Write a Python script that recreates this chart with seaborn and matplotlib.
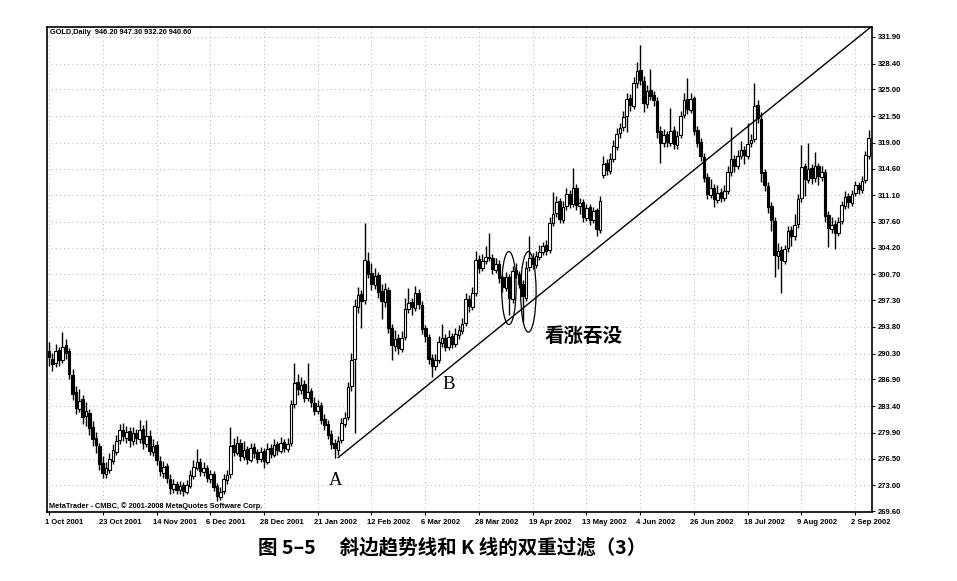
import numpy as np
import pandas as pd
import matplotlib
matplotlib.use("Agg")
import matplotlib.pyplot as plt
import seaborn as sns
from matplotlib.patches import Ellipse
from matplotlib.transforms import ScaledTranslation

# ---------------- data ----------------
opens = [290.6, 289.6, 289.0, 290.8, 289.4, 291.4, 290.6, 287.5, 285.2, 283.0,
         284.3, 282.1, 282.5, 280.6, 279.2, 278.1, 275.9, 274.5, 275.0, 276.2,
         277.4, 278.9, 280.3, 279.2, 280.1, 278.8, 279.9, 279.0, 280.4, 278.4,
         279.5, 277.3, 278.3, 276.2, 274.6, 275.5, 273.8, 272.5, 273.2, 272.3,
         273.0, 272.1, 272.9, 274.2, 275.3, 276.1, 274.7, 275.3, 273.8, 274.5,
         272.9, 271.5, 272.2, 273.7, 274.4, 278.3, 277.2, 278.6, 276.7, 277.7,
         276.3, 278.0, 277.3, 276.4, 277.5, 276.1, 277.9, 277.0, 278.4, 277.5,
         278.7, 277.8, 278.5, 283.7, 286.5, 285.5, 286.3, 284.4, 285.4, 283.8,
         282.7, 283.5, 281.7, 281.0, 279.7, 278.5, 277.6, 278.9, 281.1, 281.9,
         286.0, 289.6, 296.4, 298.1, 297.3, 302.5, 300.9, 299.3, 300.6, 298.5,
         297.1, 298.7, 293.7, 291.3, 292.3, 290.9, 292.5, 296.1, 297.1, 296.3,
         298.3, 296.7, 293.6, 292.5, 289.7, 288.6, 289.5, 291.7, 292.4, 291.1,
         292.6, 291.5, 292.7, 293.3, 294.3, 297.5, 296.4, 298.3, 302.7, 301.5,
         302.5, 302.9, 302.9, 301.3, 302.1, 300.3, 298.9, 300.3, 297.4, 301.3,
         300.7, 299.5, 297.6, 301.7, 302.9, 301.9, 303.0, 303.7, 304.5, 303.9,
         307.5, 308.7, 310.3, 307.9, 309.7, 311.3, 309.9, 312.1, 309.7, 310.2,
         308.1, 309.5, 307.8, 309.1, 306.5, 313.8, 315.3, 314.3, 315.9, 317.5,
         319.3, 320.1, 321.5, 323.9, 322.8, 325.9, 327.5, 326.1, 323.1, 324.9,
         324.3, 323.5, 319.5, 317.9, 319.1, 318.0, 319.7, 317.7, 319.0, 321.6,
         323.7, 322.3, 323.9, 319.7, 318.1, 316.1, 313.5, 311.1, 312.1, 310.5,
         311.5, 310.7, 311.7, 314.1, 315.9, 314.9, 316.3, 317.1, 316.3, 317.9,
         318.5, 322.9, 321.1, 314.1, 312.3, 309.7, 307.7, 303.1, 303.9, 302.5,
         304.1, 306.5, 305.7, 307.3, 310.7, 314.9, 313.1, 314.7, 313.3, 315.0,
         313.5, 314.1, 308.5, 306.7, 307.3, 306.1, 307.7, 309.7, 311.0, 310.1,
         311.4, 312.5, 311.8, 313.1, 316.3]
highs = [291.8, 290.4, 291.5, 291.2, 293.1, 292.2, 291.0, 288.2, 286.0, 285.6,
         284.8, 283.9, 283.0, 281.4, 280.0, 278.6, 276.8, 276.0, 277.2, 278.4,
         279.6, 281.0, 281.2, 280.8, 280.6, 280.6, 280.4, 281.5, 280.9, 281.6,
         280.2, 279.0, 278.8, 276.8, 276.2, 275.9, 274.4, 273.8, 273.6, 273.6,
         273.4, 273.7, 275.0, 276.3, 277.8, 276.6, 276.0, 275.7, 275.0, 274.9,
         273.3, 272.8, 274.4, 275.0, 280.6, 279.2, 279.4, 279.0, 278.8, 278.2,
         278.6, 278.5, 277.8, 278.0, 277.9, 278.6, 278.4, 279.0, 278.8, 279.3,
         279.1, 279.2, 284.2, 289.0, 287.6, 287.2, 286.8, 289.0, 285.8, 284.6,
         284.2, 283.9, 282.4, 281.5, 280.2, 279.0, 279.4, 281.8, 282.6, 286.6,
         290.4, 297.4, 299.0, 298.7, 307.4, 303.6, 302.2, 301.6, 301.0, 299.4,
         299.6, 299.1, 294.2, 293.4, 292.8, 293.2, 297.6, 298.9, 297.6, 299.2,
         298.8, 297.2, 294.1, 292.9, 290.2, 290.2, 292.6, 294.2, 292.9, 293.4,
         293.0, 293.6, 294.0, 295.0, 298.2, 298.0, 299.0, 303.8, 303.2, 303.4,
         304.4, 306.2, 303.4, 302.8, 302.6, 300.8, 301.0, 300.8, 301.8, 302.2,
         301.2, 300.0, 302.4, 305.8, 303.5, 303.8, 304.6, 305.0, 305.2, 308.2,
         311.5, 311.0, 310.8, 310.4, 312.0, 311.8, 314.7, 312.6, 310.8, 310.6,
         310.0, 309.9, 309.6, 309.4, 311.0, 316.2, 315.8, 316.6, 318.4, 320.0,
         320.6, 322.2, 324.6, 324.4, 326.6, 328.6, 330.8, 326.8, 325.6, 327.7,
         324.8, 324.0, 320.2, 319.8, 319.6, 322.6, 320.2, 319.6, 322.2, 324.6,
         326.5, 324.6, 324.2, 320.2, 318.6, 316.6, 314.0, 313.2, 312.6, 312.4,
         312.0, 312.4, 315.0, 320.1, 316.4, 317.0, 318.2, 317.6, 320.6, 319.2,
         325.8, 323.6, 322.0, 314.6, 312.8, 310.2, 308.2, 304.8, 304.4, 304.6,
         307.0, 307.0, 308.6, 311.2, 317.7, 315.4, 318.0, 315.2, 316.8, 315.4,
         315.0, 314.6, 309.0, 308.2, 307.8, 308.2, 310.4, 311.6, 311.4, 311.8,
         313.0, 312.9, 313.6, 316.9, 319.7]
lows = [288.6, 288.0, 288.5, 288.7, 289.0, 289.6, 287.0, 284.2, 282.4, 282.6,
        281.0, 280.8, 279.6, 278.2, 277.2, 275.0, 273.9, 274.0, 274.6, 275.8,
        276.9, 278.4, 278.8, 278.5, 278.0, 278.3, 278.4, 278.6, 277.8, 278.0,
        276.9, 276.8, 275.6, 274.2, 274.0, 273.3, 271.9, 272.0, 271.8, 271.9,
        271.6, 271.8, 272.6, 273.8, 275.0, 274.2, 274.2, 273.4, 273.3, 272.2,
        270.9, 271.0, 271.9, 273.2, 274.0, 276.8, 276.9, 276.2, 276.3, 275.8,
        276.0, 276.6, 275.9, 276.0, 275.3, 275.8, 276.6, 276.7, 277.0, 277.2,
        277.4, 277.4, 278.2, 283.2, 284.8, 285.0, 283.9, 284.0, 283.3, 282.2,
        282.3, 281.0, 280.3, 279.0, 277.8, 276.6, 277.0, 278.6, 280.6, 281.5,
        285.4, 279.9, 295.6, 293.6, 296.8, 300.2, 298.6, 298.8, 297.6, 294.8,
        296.4, 293.0, 289.5, 290.6, 290.2, 290.5, 292.1, 295.6, 295.4, 295.9,
        296.2, 292.8, 291.8, 288.9, 287.2, 288.1, 289.0, 291.2, 290.6, 290.8,
        291.0, 291.1, 292.2, 292.9, 293.9, 295.8, 296.0, 297.9, 300.9, 301.1,
        302.0, 302.4, 300.8, 300.9, 299.6, 298.4, 298.5, 295.3, 297.0, 300.2,
        298.9, 294.4, 297.2, 301.2, 301.4, 301.5, 302.6, 303.2, 303.2, 303.5,
        307.0, 308.2, 307.4, 307.5, 309.2, 309.4, 309.5, 309.2, 308.6, 307.6,
        307.7, 307.2, 307.4, 305.8, 306.1, 313.4, 313.7, 313.9, 315.5, 317.0,
        318.6, 319.6, 319.4, 322.2, 322.4, 325.2, 325.6, 322.0, 322.6, 323.6,
        322.8, 318.6, 315.4, 317.4, 317.4, 317.6, 317.2, 317.2, 318.6, 321.2,
        321.8, 321.9, 319.0, 317.4, 315.6, 312.8, 310.6, 310.7, 309.5, 310.1,
        310.2, 310.3, 311.3, 313.6, 314.2, 314.5, 315.8, 315.2, 315.9, 317.4,
        318.1, 320.6, 312.8, 311.6, 308.8, 306.4, 300.3, 301.4, 298.2, 302.0,
        303.6, 304.4, 305.2, 306.8, 310.2, 311.0, 312.7, 312.6, 312.9, 312.4,
        313.0, 307.6, 304.3, 306.2, 304.0, 305.7, 307.3, 309.3, 309.4, 309.7,
        311.0, 311.2, 311.4, 312.7, 315.9]
closes = [289.8, 288.9, 290.6, 289.5, 291.2, 290.4, 287.6, 285.0, 283.2, 284.1,
          282.0, 282.8, 280.5, 279.0, 278.3, 275.8, 274.6, 275.2, 276.4, 277.6,
          278.8, 280.2, 279.4, 280.0, 278.9, 279.8, 279.2, 280.3, 278.6, 279.4,
          277.5, 278.2, 276.3, 274.8, 275.4, 273.9, 272.6, 273.1, 272.4, 272.9,
          272.2, 273.0, 274.3, 275.4, 276.0, 274.8, 275.2, 273.9, 274.4, 272.8,
          271.6, 272.1, 273.8, 274.3, 278.2, 277.4, 278.5, 276.8, 277.6, 276.4,
          277.9, 277.2, 276.5, 277.4, 276.2, 277.8, 277.1, 278.3, 277.6, 278.6,
          277.9, 278.4, 283.6, 286.4, 285.6, 286.2, 284.5, 285.3, 283.9, 282.8,
          283.4, 281.6, 280.9, 279.6, 278.4, 277.9, 278.8, 281.2, 281.8, 285.9,
          289.5, 296.5, 298.0, 297.2, 302.6, 300.8, 299.4, 300.5, 298.4, 297.2,
          298.8, 293.6, 291.4, 292.2, 291.0, 292.4, 296.2, 297.0, 296.4, 298.2,
          296.8, 293.5, 292.6, 289.6, 288.7, 289.4, 291.8, 292.3, 291.2, 292.5,
          291.6, 292.8, 293.4, 294.2, 297.4, 296.5, 298.2, 302.6, 301.6, 302.4,
          303.0, 302.8, 301.4, 302.0, 300.2, 299.0, 300.4, 297.6, 301.2, 300.8,
          299.4, 297.8, 301.6, 302.8, 302.0, 303.1, 303.6, 304.4, 303.8, 307.4,
          308.6, 310.2, 308.0, 309.6, 311.2, 310.0, 312.0, 309.8, 310.1, 308.2,
          309.4, 307.9, 309.0, 306.6, 310.4, 315.2, 314.4, 315.8, 317.6, 319.2,
          320.0, 321.4, 323.8, 322.9, 325.8, 327.4, 326.2, 323.2, 324.8, 324.2,
          323.6, 319.4, 318.0, 319.0, 318.1, 319.6, 317.8, 318.9, 321.5, 323.6,
          322.4, 323.8, 319.6, 318.0, 316.2, 313.4, 311.2, 312.0, 310.6, 311.4,
          310.8, 311.6, 314.2, 315.8, 315.0, 316.2, 317.0, 316.4, 317.8, 318.4,
          322.8, 321.2, 314.0, 312.4, 309.6, 307.8, 303.2, 303.8, 302.6, 304.0,
          306.4, 305.8, 307.2, 310.6, 314.8, 313.2, 314.6, 313.4, 314.9, 313.6,
          314.2, 308.4, 306.8, 307.2, 306.2, 307.6, 309.8, 310.9, 310.2, 311.3,
          312.4, 311.9, 313.0, 316.4, 318.6]

date_labels = ["1 Oct 2001", "23 Oct 2001", "14 Nov 2001", "6 Dec 2001",
               "28 Dec 2001", "21 Jan 2002", "12 Feb 2002", "6 Mar 2002",
               "28 Mar 2002", "19 Apr 2002", "13 May 2002", "4 Jun 2002",
               "26 Jun 2002", "18 Jul 2002", "9 Aug 2002", "2 Sep 2002"]
date_tick_bars = [0, 16, 32, 48, 64, 80, 96, 112, 128, 144, 160, 176, 192, 208, 224, 240]
price_ticks = [331.90, 328.40, 325.00, 321.50, 318.00, 314.60, 311.10, 307.60,
               304.20, 300.70, 297.30, 293.80, 290.30, 286.90, 283.40, 279.90,
               276.50, 273.00, 269.60]
price_labels = ["331.90", "328.40", "325.00", "321.50", "319.00", "314.60",
                "311.10", "307.60", "304.20", "300.70", "297.30", "293.80",
                "290.30", "286.90", "283.40", "279.90", "276.50", "273.00", "269.60"]

trend_x = [86.0, 245.2]
trend_y = [276.6, 333.4]

header = "GOLD,Daily  946.20 947.30 932.20 940.60"
footer = "MetaTrader - CMBC, \u00a9 2001-2008 MetaQuotes Software Corp."
title = "图 5\u20135\u3000 斜边趋势线和 K 线的双重过滤（3）"
pattern_label = "看涨吞没"

# ---------------- drawing ----------------
sns.set_theme(style="white")
plt.rcParams['font.family'] = ['DejaVu Sans', 'Noto Sans CJK SC']
plt.rcParams['text.color'] = 'black'
plt.rcParams['xtick.color'] = 'black'
plt.rcParams['ytick.color'] = 'black'
small_font = ["Liberation Sans", "DejaVu Sans"]

df = pd.DataFrame({"bar": np.arange(len(closes)), "open": opens, "high": highs,
                   "low": lows, "close": closes})
df["up"] = df["close"] >= df["open"]
df["body_lo"] = df[["open", "close"]].min(axis=1)
df["body_h"] = (df["close"] - df["open"]).abs().clip(lower=0.15)

fig = plt.figure(figsize=(9.57, 5.81), dpi=100)
fig.patch.set_facecolor("white")
ax = fig.add_axes([47 / 957, 1 - 512 / 581, 825 / 957, 485 / 581])
ax.set_facecolor("white")

# grid
for t in date_tick_bars:
    ax.axvline(t, color="#999999", lw=0.6, ls=(0, (1, 4)), zorder=0)
for p in price_ticks:
    ax.axhline(p, color="#999999", lw=0.6, ls=(0, (1, 4)), zorder=0)

# candles
ax.vlines(df["bar"], df["low"], df["high"], color="black", lw=1.0, zorder=2)
ax.bar(df["bar"], df["body_h"], bottom=df["body_lo"], width=0.78,
       color=np.where(df["up"], "white", "black"), edgecolor="black",
       linewidth=0.8, zorder=3)

# trend line
sns.lineplot(x=trend_x, y=trend_y, ax=ax, color="black", lw=1.0, zorder=4)

# engulfing ellipses
ax.add_patch(Ellipse((136.9, 298.9), width=4.3, height=9.6, fill=False,
                     ec="black", lw=0.9, zorder=5))
ax.add_patch(Ellipse((142.7, 298.4), width=4.6, height=10.6, fill=False,
                     ec="black", lw=0.9, zorder=5))

ax.set_xlim(-0.6, 245.0)
ax.set_ylim(269.47, 333.21)

for s in ax.spines.values():
    s.set_visible(True)
    s.set_color("black")
    s.set_linewidth(1.2)

ax.yaxis.tick_right()
ax.set_yticks(price_ticks)
ax.set_yticklabels(price_labels, fontsize=5.5, fontweight="bold", family=small_font)
ax.set_xticks(date_tick_bars)
ax.set_xticklabels(date_labels, fontsize=5.5, fontweight="bold", ha="left",
                   family=small_font)
ax.tick_params(axis="y", which="both", right=True, length=2.5, width=0.8,
               pad=2, colors="black")
ax.tick_params(axis="x", which="both", bottom=True, length=2, width=0.8,
               pad=3, colors="black")
off = ScaledTranslation(-4 / 100, 0, fig.dpi_scale_trans)
for lab in ax.get_xticklabels():
    lab.set_transform(lab.get_transform() + off)
ax.set_xlabel("")
ax.set_ylabel("")

ax.text(0.004, 0.996, header, transform=ax.transAxes, ha="left", va="top",
        fontsize=5.3, fontweight="bold", color="black", family=small_font)
ax.text(0.002, 0.005, footer, transform=ax.transAxes, ha="left", va="bottom",
        fontsize=5.3, fontweight="bold", color="black", family=small_font)

serif = ["Liberation Serif", "DejaVu Serif"]
ax.text(85.4, 273.6, "A", family=serif, fontsize=13.5, ha="center", va="center",
        color="black")
ax.text(119.0, 286.2, "B", family=serif, fontsize=13.5, ha="center", va="center",
        color="black")
ax.text(159.2, 292.5, pattern_label, family=["Noto Sans CJK SC", "DejaVu Sans"],
        fontsize=14, fontweight="bold", ha="center", va="center", color="black")

fig.text(452 / 957, 1 - 548 / 581, title, ha="center", va="center",
         fontsize=14, fontweight="bold", color="black",
         family=["Noto Sans CJK SC", "DejaVu Sans"])

fig.savefig("out.png", dpi=100)
